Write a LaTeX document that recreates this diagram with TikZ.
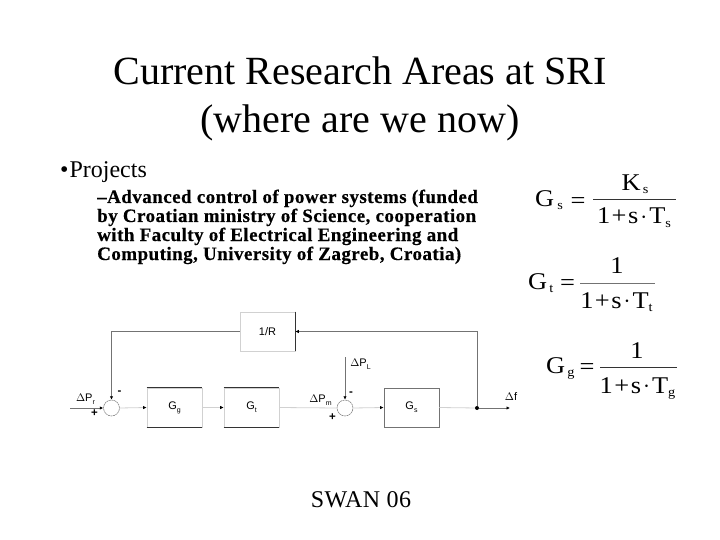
\documentclass[tikz,border=0pt]{standalone}
\usepackage{fontspec}
\setmainfont{Liberation Serif}
\newfontfamily\dsans{Liberation Sans}
\newfontfamily\wideserif[FakeStretch=1.1]{Liberation Serif}
\newfontfamily\bodybold[LetterSpace=2.4,FakeBold=0.4]{Liberation Serif Bold}
\newfontfamily\swanfont[LetterSpace=2]{Liberation Serif}
\usetikzlibrary{arrows.meta}
\definecolor{lightedge}{gray}{0.82}
\definecolor{darkedge}{gray}{0.2}
\definecolor{midedge}{gray}{0.45}
\newcommand{\subs}[1]{\raisebox{-3pt}{\fontsize{13}{13}\selectfont #1}}
\newcommand{\subb}[1]{\raisebox{-3pt}{\fontsize{7}{7}\selectfont #1}}
\newcommand{\dmn}[1]{1\kern1.5pt+\kern1.5pt s\kern2pt\raisebox{1pt}{$\cdot$}\kern2pt T\subs{#1}}
\tikzset{
  x=1pt,y=-1pt,
  blockbox/.style={draw=lightedge,line width=0.8pt,minimum width=55pt,minimum height=39pt,inner sep=0pt,font=\dsans\fontsize{11}{12}\selectfont},
  sumcircle/.style={circle,draw=midedge,line width=0.5pt,dash pattern=on 2pt off 0.6pt,minimum size=16pt,inner sep=0pt},
  darkline/.style={draw=midedge,line width=1pt},
  blackline/.style={draw=darkedge,line width=1pt},
  paleline/.style={draw=lightedge,line width=0.8pt},
  tip/.style={-{Latex[length=3.5pt,width=3.5pt,black]}},
  sig/.style={font=\dsans\fontsize{11}{12}\selectfont,inner sep=0pt},
  sgn/.style={font=\dsans\bfseries\fontsize{11.5}{12}\selectfont,inner sep=0pt},
  formula/.style={inner sep=0pt,font=\wideserif\fontsize{24}{26}\selectfont,anchor=base west},
  titletext/.style={inner sep=0pt,font=\fontsize{40}{48}\selectfont,anchor=base},
  bodyline/.style={inner sep=0pt,anchor=base west,font=\bodybold\fontsize{19}{20}\selectfont},
}
\begin{document}
\begin{tikzpicture}
\useasboundingbox (0,0) rectangle (720,540);
\fill[white] (0,0) rectangle (720,540);
% titles
\node[titletext] (t1) at (360,85) {Current Research Areas at SRI};
\node[titletext] (t2) at (360,133) {(where are we now)};
\node[inner sep=0pt,anchor=base west,font=\fontsize{24}{26}\selectfont] (bul) at (60,178) {•\kern1pt Projects};
\node[bodyline] (l1) at (97,203) {–Advanced control of power systems (funded};
\node[bodyline] (l2) at (97,222) {by Croatian ministry of Science, cooperation};
\node[bodyline] (l3) at (97,241) {with Faculty of Electrical Engineering and};
\node[bodyline] (l4) at (97,260) {Computing, University of Zagreb, Croatia)};
\node[inner sep=0pt,anchor=base,font=\swanfont\fontsize{24}{26}\selectfont] (sw) at (361,507) {SWAN 06};
% blocks
\node[blockbox] (r) at (267.5,331.5) {1/R};
\node[blockbox] (gg) at (174.5,407.5) {G\subb{g}};
\node[blockbox] (gt) at (251.5,407.5) {G\subb{t}};
\node[blockbox,draw=midedge] (gs) at (411.5,407.5) {G\subb{s}};
\draw[blackline] (r.north east) -- (r.south east);
\foreach \b in {gg,gt}{
  \draw[blackline] (\b.north west) -- (\b.north east);
  \draw[blackline] (\b.south west) -- (\b.south east);
}
\node[sumcircle] (s1) at (111.5,408) {};
\node[sumcircle] (s2) at (345,408) {};
\node[circle,fill=black,minimum size=4pt,inner sep=0pt] (j) at (477,408) {};
\coordinate (in) at (70,408);
\coordinate (out) at (510,408);
\coordinate (pl) at (345,357);
% connectors
\draw[darkline,tip] (in) -- (s1.west);
\draw[paleline,tip] (s1.east) -- (gg.west);
\draw[paleline,tip] (gg.east) -- (gt.west);
\draw[paleline] (gt.east) -- (s2.west);
\draw[paleline,tip] (s2.east) -- (gs.west);
\draw[paleline] (gs.east) -- (j);
\draw[darkline,tip] (j) -- (out);
\draw[darkline,tip] (j) |- (r.east);
\draw[darkline,tip] (r.west) -| (s1.north);
\draw[darkline,tip] (pl) -- (s2.north);
% labels
\node[sig] (lr) at (85.5,399) {$\Delta$P\subb{r}};
\node[sgn] (p1) at (94.5,413.5) {+};
\node[sgn] (m1) at (119.5,393) {-};
\node[sig] (lm) at (320.5,400) {$\Delta$P\subb{m}};
\node[sgn] (p2) at (332.5,417.5) {+};
\node[sgn] (m2) at (351,393.5) {-};
\node[sig] (ll) at (360.5,364) {$\Delta$P\subb{L}};
\node[sig] (lf) at (511,397) {$\Delta$f};
% formulas
\node[formula] (fs) at (535,207) {G\kern3pt\subs{s}};
\node[formula,anchor=base] (es) at (578,208) {=};
\coordinate (a1) at (593,199);
\coordinate (a2) at (676,199);
\draw[draw=darkedge,line width=0.7pt] (a1) -- (a2);
\node[formula,anchor=base] (ns) at (635,191) {K\kern2pt\subs{s}};
\node[formula,anchor=base] (ds) at (634,224) {\dmn{s}};
\node[formula] (ft) at (528,289) {G\kern2pt\subs{t}};
\node[formula,anchor=base] (et) at (567.5,290) {=};
\coordinate (b1) at (580,283);
\coordinate (b2) at (655,283);
\draw[draw=midedge,line width=1pt] (b1) -- (b2);
\node[formula,anchor=base] (nt) at (617,273) {1};
\node[formula,anchor=base] (dt) at (616.5,308) {\dmn{t}};
\node[formula] (fg) at (546,373) {G\kern2pt\subs{g}};
\node[formula,anchor=base] (eg) at (587,374) {=};
\coordinate (c1) at (600,367);
\coordinate (c2) at (677,367);
\draw[draw=darkedge,line width=0.7pt] (c1) -- (c2);
\node[formula,anchor=base] (ng) at (637,358) {1};
\node[formula,anchor=base] (dg) at (637.5,393) {\dmn{g}};
\end{tikzpicture}
\end{document}
